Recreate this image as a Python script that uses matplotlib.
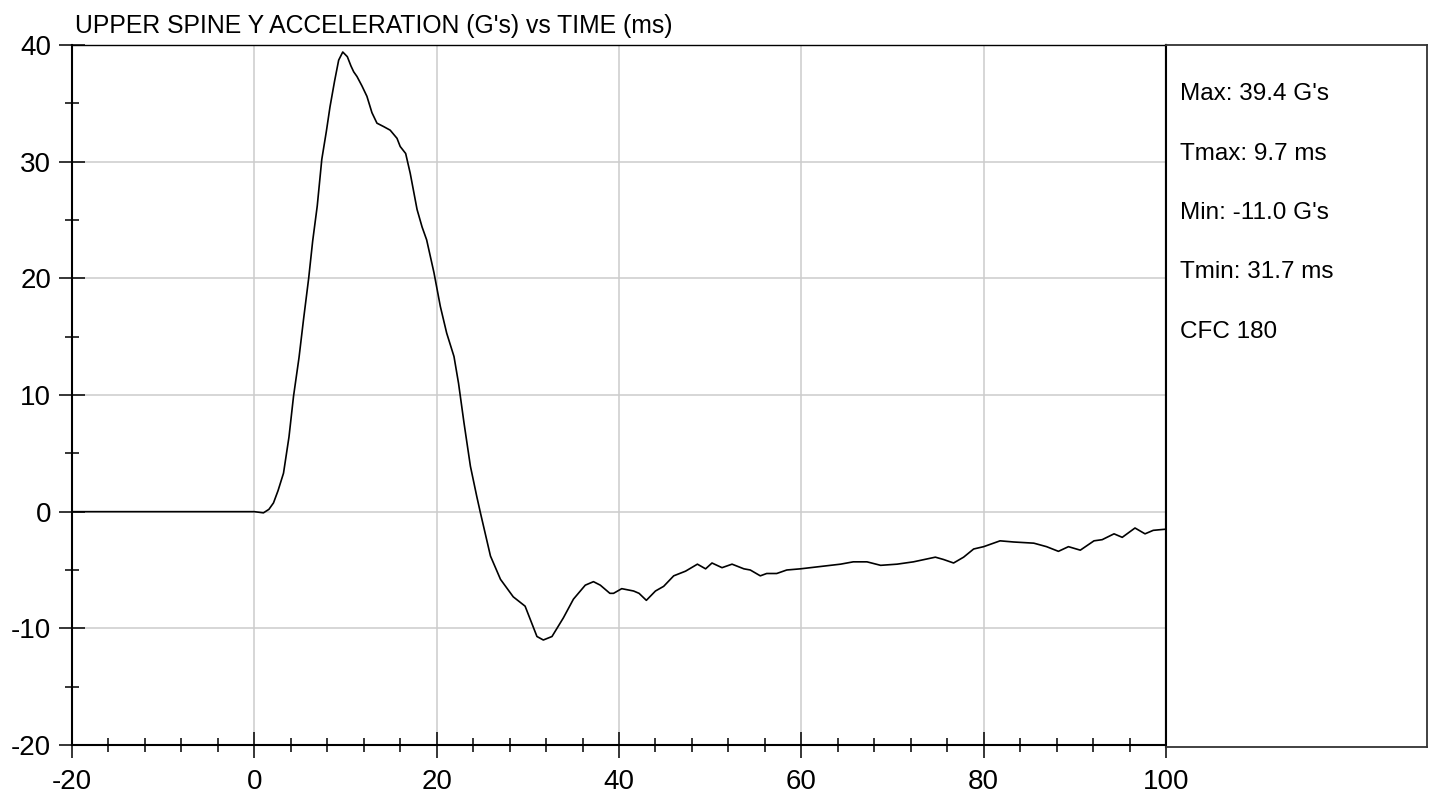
import matplotlib
matplotlib.use("Agg")
import matplotlib.pyplot as plt
from matplotlib import font_manager
from matplotlib.ticker import MultipleLocator

# time (ms) and upper spine Y acceleration (G's)
time_ms = [-20, -10, 0, 1.0, 1.6, 2.1, 2.6, 3.2, 3.8, 4.3, 4.9, 5.4, 5.96, 6.4, 6.9,
           7.4, 7.9, 8.3, 8.8, 9.25, 9.7, 10.2, 10.6, 10.9, 11.26, 11.8, 12.35, 12.9,
           13.45, 14.2, 14.9, 15.65, 16.0, 16.6, 17.1, 17.85, 18.4, 18.9, 19.7, 20.4,
           21.1, 21.9, 22.4, 23.0, 23.7, 24.4, 24.8, 25.9, 27.0, 28.4, 29.7, 30.3,
           31.0, 31.7, 32.65, 33.9, 35.0, 36.3, 37.2, 37.95, 39.0, 39.4, 40.3, 41.6,
           42.2, 43.0, 44.0, 44.9, 46.0, 47.3, 48.6, 49.5, 50.2, 51.3, 52.4, 53.7,
           54.4, 55.5, 56.2, 57.3, 58.4, 59.9, 62.1, 64.3, 65.7, 67.2, 68.7, 70.5,
           72.3, 74.7, 75.6, 76.7, 77.8, 78.9, 80.0, 81.8, 83.3, 85.5, 86.9, 88.2,
           89.3, 90.6, 92.1, 93.0, 94.3, 95.2, 96.6, 97.7, 98.6, 100.0]
accel_g = [0, 0, 0, -0.1, 0.2, 0.75, 1.8, 3.3, 6.4, 9.9, 13.2, 16.5, 20.0, 23.2, 26.2,
           30.2, 32.6, 34.7, 36.9, 38.7, 39.4, 39.0, 38.2, 37.7, 37.3, 36.5, 35.6, 34.2,
           33.3, 33.0, 32.7, 32.0, 31.3, 30.7, 29.0, 25.9, 24.4, 23.3, 20.5, 17.6,
           15.3, 13.3, 11.0, 7.6, 3.9, 1.3, -0.1, -3.8, -5.8, -7.3, -8.1, -9.3,
           -10.7, -11.0, -10.7, -9.1, -7.5, -6.3, -6.0, -6.3, -7.0, -7.0, -6.6, -6.8,
           -7.0, -7.6, -6.8, -6.4, -5.5, -5.1, -4.5, -4.9, -4.4, -4.8, -4.5, -4.9,
           -5.0, -5.5, -5.3, -5.3, -5.0, -4.9, -4.7, -4.5, -4.3, -4.3, -4.6, -4.5,
           -4.3, -3.9, -4.1, -4.4, -3.9, -3.2, -3.0, -2.5, -2.6, -2.7, -3.0, -3.4,
           -3.0, -3.3, -2.5, -2.4, -1.9, -2.2, -1.4, -1.9, -1.6, -1.5]

title = "UPPER SPINE Y ACCELERATION (G's) vs TIME (ms)"
info_lines = ["Max: 39.4 G's", "Tmax: 9.7 ms", "Min: -11.0 G's", "Tmin: 31.7 ms", "CFC 180"]

names = {f.name for f in font_manager.fontManager.ttflist}
if 'Liberation Sans Narrow' in names:
    narrow, narrow_size, title_size = 'Liberation Sans Narrow', 20, 20
else:
    narrow, narrow_size, title_size = 'Liberation Sans', 17.5, 17.8
plt.rcParams['font.family'] = ['Liberation Sans', 'DejaVu Sans']
plt.rcParams['axes.unicode_minus'] = False

W, H = 1433, 797
fig = plt.figure(figsize=(W / 100, H / 100), dpi=100)
ax = fig.add_axes([72 / W, 1 - 745 / H, (1166 - 72) / W, 700 / H])

ax.plot(time_ms, accel_g, color='black', lw=1.2, zorder=3)
ax.set_xlim(-20, 100)
ax.set_ylim(-20, 40)
ax.xaxis.set_major_locator(MultipleLocator(20))
ax.xaxis.set_minor_locator(MultipleLocator(4))
ax.yaxis.set_major_locator(MultipleLocator(10))
ax.yaxis.set_minor_locator(MultipleLocator(5))
ax.grid(True, which='major', color='#cccccc', lw=1.1)
ax.tick_params(which='major', direction='inout', length=19, width=1.1, color='black', labelsize=20)
ax.tick_params(which='minor', direction='inout', length=10, width=1.1, color='black')
ax.tick_params(axis='x', which='major', pad=8)
ax.tick_params(axis='y', which='major', pad=5.5)
for side in ['left', 'bottom', 'right']:
    ax.spines[side].set_linewidth(1.5)
    ax.spines[side].set_color('black')
ax.spines['top'].set_linewidth(1.0)
ax.spines['top'].set_color('black')

# side panel with the summary values
panel = fig.add_axes([1166 / W, 1 - 747 / H, (1427 - 1166) / W, 702 / H])
panel.set_xticks([])
panel.set_yticks([])
for side in panel.spines:
    panel.spines[side].set_color('#333333')
    panel.spines[side].set_linewidth(1.3)
panel.spines['left'].set_color('black')
panel.spines['left'].set_linewidth(1.5)

for i, line in enumerate(info_lines):
    fig.text(1180 / W, 1 - (100 + 59.5 * i) / H, line, family=narrow,
             fontsize=narrow_size, va='baseline', ha='left')

fig.text(75 / W, 1 - 33 / H, title, family=narrow, fontsize=title_size,
         va='baseline', ha='left')

fig.savefig('out.png', dpi=100)
